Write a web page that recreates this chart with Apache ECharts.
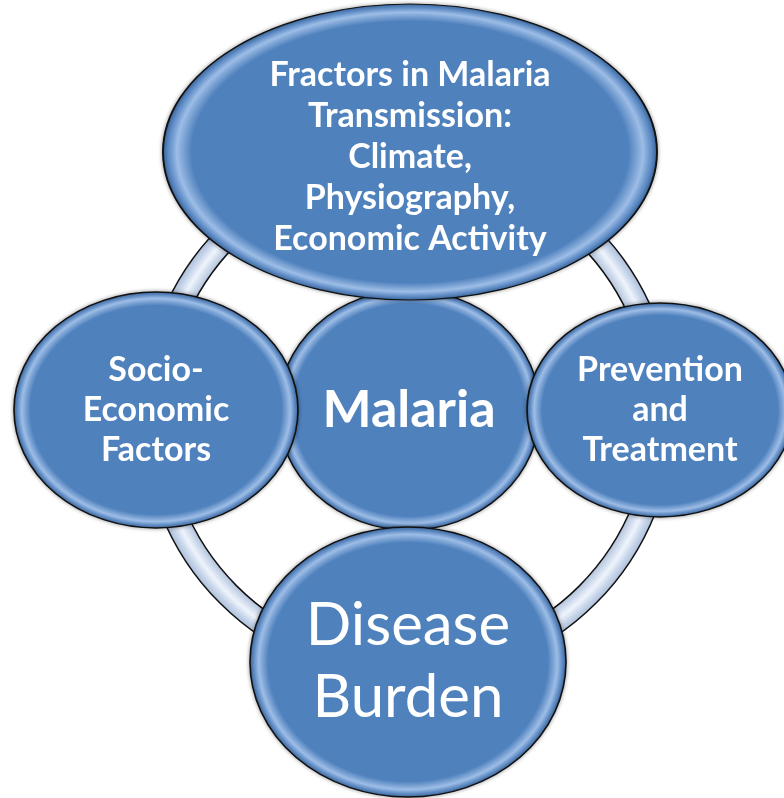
<!DOCTYPE html>
<html>
<head>
    <meta charset="utf-8">
    <title>Malaria</title>
    <script src="https://cdn.jsdelivr.net/npm/echarts/dist/echarts.min.js"></script>
    <style>
        body { margin: 0; background: #fff; }
        #main { width: 784px; height: 798px; }
    </style>
</head>
<body>
<div id="main"></div>
<script type="text/javascript">
    // node texts, the centre one first so the others sit over it
    var nodeNames = [
        'Malaria',
        'Fractors in Malaria\nTransmission:\nClimate,\nPhysiography,\nEconomic Activity',
        'Socio-\nEconomic\nFactors',
        'Prevention\nand\nTreatment',
        'Disease\nBurden'
    ];
    var nodeBold = [true, true, true, true, false];

    // layout (page px), kept apart from the texts
    var nodeX = [409, 410, 156, 660, 408];
    var nodeY = [410, 152, 410, 410, 662];
    var nodeW = [262, 494, 284, 266, 316];
    var nodeH = [240, 296, 236, 214, 270];
    var fontSize = [52, 34, 34, 34, 60];
    var lineHeight = [50, 41, 40, 40, 72];
    var labelDy = [0, 5, 0, 0, 0];

    var myChart = echarts.init(document.getElementById('main'));

    var bubbleFill = new echarts.graphic.RadialGradient(0.5, 0.5, 0.5, [
        { offset: 0, color: '#4f81bd' },
        { offset: 0.88, color: '#4f81bd' },
        { offset: 0.94, color: '#9dbde6' },
        { offset: 0.965, color: '#6d98cf' },
        { offset: 0.99, color: '#4a7ab6' },
        { offset: 1, color: '#3b659c' }
    ]);

    var ringFill = new echarts.graphic.RadialGradient(0.5, 0.5, 0.5, [
        { offset: 0.91, color: '#b7c7df' },
        { offset: 0.95, color: '#eef4fc' },
        { offset: 0.975, color: '#c8d6ea' },
        { offset: 1, color: '#a9bcd8' }
    ]);

    var nodes = [];
    for (var i = 0; i < nodeNames.length; i++) {
        nodes.push({
            name: nodeNames[i],
            value: [nodeX[i], nodeY[i]],
            symbolSize: [nodeW[i], nodeH[i]],
            label: {
                fontSize: fontSize[i],
                lineHeight: lineHeight[i],
                fontWeight: nodeBold[i] ? 'bold' : 'normal',
                offset: [0, labelDy[i]]
            }
        });
    }

    var option = {
        animation: false,
        grid: { left: 0, right: 0, top: 0, bottom: 0 },
        xAxis: { type: 'value', min: 0, max: 784, show: false },
        yAxis: { type: 'value', min: 0, max: 798, inverse: true, show: false },
        series: [
            {
                type: 'pie',
                silent: true,
                center: [408, 415],
                radius: [242, 266],
                label: { show: false },
                labelLine: { show: false },
                itemStyle: { color: ringFill, borderColor: '#111', borderWidth: 1.5 },
                data: [{ value: 1, name: 'ring' }],
                z: 1
            },
            {
                type: 'graph',
                coordinateSystem: 'cartesian2d',
                layout: 'none',
                silent: true,
                symbol: 'circle',
                itemStyle: {
                    color: bubbleFill,
                    borderColor: '#111',
                    borderWidth: 1.5,
                    shadowBlur: 4,
                    shadowColor: 'rgba(0,0,0,0.35)'
                },
                label: {
                    show: true,
                    position: 'inside',
                    color: '#fff',
                    fontFamily: 'Lato',
                    align: 'center',
                    formatter: '{b}'
                },
                data: nodes,
                links: [],
                z: 2
            }
        ]
    };
    myChart.setOption(option);
</script>
</body>
</html>
